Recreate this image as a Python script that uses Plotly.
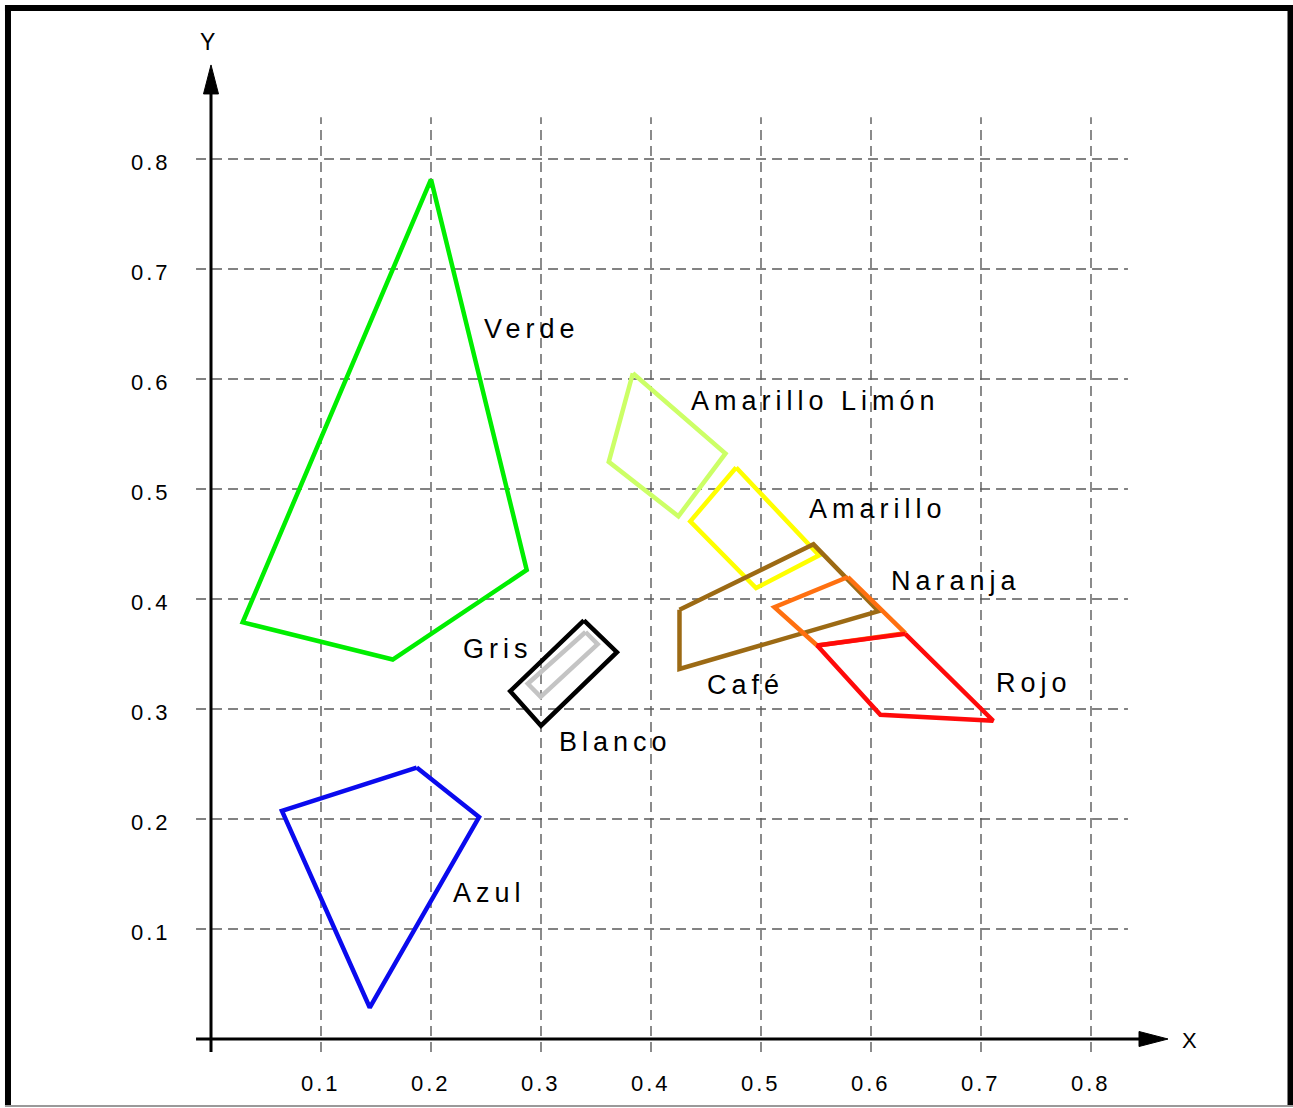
import plotly.graph_objects as go

# ---------------- data ----------------
ticks = [0.1, 0.2, 0.3, 0.4, 0.5, 0.6, 0.7, 0.8]
tick_labels = ["0.1", "0.2", "0.3", "0.4", "0.5", "0.6", "0.7", "0.8"]

region_names = ["Verde", "Azul", "Gris", "Blanco", "Amarillo Limón",
                "Amarillo", "Café", "Naranja", "Rojo"]

verde_x = [0.2000, 0.2870, 0.1652, 0.0288]
verde_y = [0.7815, 0.4264, 0.3450, 0.3788]

azul_x = [0.1870, 0.2437, 0.1443, 0.0645]
azul_y = [0.2468, 0.2018, 0.0286, 0.2073]

gris_x = [0.3390, 0.3690, 0.3000, 0.2720]
gris_y = [0.3806, 0.3516, 0.2848, 0.3162]

blanco_x = [0.3405, 0.3515, 0.2997, 0.2880]
blanco_y = [0.3700, 0.3590, 0.3110, 0.3230]

limon_x = [0.3835, 0.4677, 0.4249, 0.3616]
limon_y = [0.6052, 0.5323, 0.4752, 0.5247]

amarillo_x = [0.4774, 0.5529, 0.4955, 0.4357]
amarillo_y = [0.5195, 0.4397, 0.4099, 0.4706]

cafe_x = [0.4259, 0.5477, 0.6068, 0.4259]
cafe_y = [0.3902, 0.4497, 0.3889, 0.3364]

naranja_x = [0.5790, 0.6311, 0.5511, 0.5122]
naranja_y = [0.4200, 0.3689, 0.3577, 0.3926]

rojo_x = [0.6311, 0.7111, 0.6085, 0.5511]
rojo_y = [0.3683, 0.2893, 0.2948, 0.3577]

label_x = [0.2464, 0.2182, 0.2273, 0.3145, 0.4345, 0.5418, 0.4490, 0.6164, 0.7118]
label_y = [0.6455, 0.1327, 0.3545, 0.2700, 0.5800, 0.4818, 0.3218, 0.4164, 0.3236]

# ---------------- styles ----------------
colors = {
    "Verde": "#00ee00",
    "Azul": "#0a0aee",
    "Gris": "#000000",
    "Blanco": "#c4c4c4",
    "Amarillo Limón": "#ccff66",
    "Amarillo": "#ffff00",
    "Café": "#9c6a14",
    "Naranja": "#ff7010",
    "Rojo": "#ff0a0a",
}
polys = {
    "Verde": (verde_x, verde_y),
    "Azul": (azul_x, azul_y),
    "Gris": (gris_x, gris_y),
    "Blanco": (blanco_x, blanco_y),
    "Amarillo Limón": (limon_x, limon_y),
    "Amarillo": (amarillo_x, amarillo_y),
    "Café": (cafe_x, cafe_y),
    "Naranja": (naranja_x, naranja_y),
    "Rojo": (rojo_x, rojo_y),
}
draw_order = ["Verde", "Azul", "Gris", "Blanco", "Amarillo Limón",
              "Amarillo", "Café", "Naranja", "Rojo"]

FONT = "Liberation Sans, Arial, sans-serif"

fig = go.Figure()

# grid
grid_style = dict(color="#5a5a5a", width=1.4, dash="10px,6px")
shapes = []
for t in ticks:
    shapes.append(dict(type="line", xref="x", yref="y", x0=t, x1=t,
                       y0=-0.0118, y1=0.838, line=grid_style, layer="below"))
    shapes.append(dict(type="line", xref="x", yref="y", y0=t, y1=t,
                       x0=-0.0136, x1=0.8336, line=grid_style, layer="below"))

# axes lines
axis_line = dict(color="black", width=3)
shapes.append(dict(type="line", xref="x", yref="y", x0=-0.0136, x1=0.85,
                   y0=0, y1=0, line=axis_line))
shapes.append(dict(type="line", xref="x", yref="y", x0=0, x1=0,
                   y0=-0.0118, y1=0.865, line=axis_line))
# arrow heads
shapes.append(dict(type="path", xref="x", yref="y", xsizemode="pixel", ysizemode="pixel",
                   xanchor=0.87, yanchor=0, path="M0,0 L-29,7.5 L-29,-7.5 Z",
                   fillcolor="black", line=dict(color="black", width=1)))
shapes.append(dict(type="path", xref="x", yref="y", xsizemode="pixel", ysizemode="pixel",
                   xanchor=0, yanchor=0.8855, path="M0,0 L-7.5,-29 L7.5,-29 Z",
                   fillcolor="black", line=dict(color="black", width=1)))

# frame
frame = dict(color="black", width=6)
shapes.append(dict(type="line", xref="x", yref="y", x0=-0.1873, x1=0.99,
                   y0=0.93727, y1=0.93727, line=frame))
shapes.append(dict(type="line", xref="x", yref="y", x0=-0.18455, x1=-0.18455,
                   y0=-0.0609, y1=0.94, line=frame))
shapes.append(dict(type="line", xref="x", yref="y", x0=0.98136, x1=0.98136,
                   y0=-0.0609, y1=0.94, line=frame))
shapes.append(dict(type="line", xref="x", yref="y", x0=-0.1873, x1=0.99,
                   y0=-0.0609, y1=-0.0609, line=dict(color="#999999", width=2)))

# polygons
for name in draw_order:
    xs, ys = polys[name]
    fig.add_trace(go.Scatter(x=xs + xs[:1], y=ys + ys[:1], mode="lines",
                             line=dict(color=colors[name], width=4.5),
                             name=name, hoverinfo="skip"))

annotations = []
for name, lx, ly in zip(region_names, label_x, label_y):
    annotations.append(dict(x=lx, y=ly, xref="x", yref="y", showarrow=False,
                            xanchor="left", yanchor="middle",
                            text=f'<span style="letter-spacing:5px">{name}</span>',
                            font=dict(family=FONT, size=27, color="black")))
for t, lab in zip(ticks, tick_labels):
    annotations.append(dict(x=t, y=-0.04, xref="x", yref="y", showarrow=False,
                            xanchor="center", yanchor="middle",
                            text=f'<span style="letter-spacing:3px">{lab}</span>',
                            font=dict(family=FONT, size=22, color="black")))
    annotations.append(dict(x=-0.0345, y=t, xref="x", yref="y", showarrow=False,
                            xanchor="right", yanchor="middle", yshift=-3,
                            text=f'<span style="letter-spacing:3px">{lab}</span>',
                            font=dict(family=FONT, size=22, color="black")))
annotations.append(dict(x=-0.0036, y=0.9036, xref="x", yref="y", showarrow=False,
                        xanchor="center", yanchor="middle", text="Y", yshift=3,
                        font=dict(family=FONT, size=23, color="black")))
annotations.append(dict(x=0.8891, y=-0.0018, xref="x", yref="y", showarrow=False,
                        xanchor="center", yanchor="middle", text="X",
                        font=dict(family=FONT, size=22, color="black")))

fig.update_layout(
    width=1293, height=1108, autosize=False,
    margin=dict(l=0, r=0, t=0, b=0, pad=0),
    paper_bgcolor="white", plot_bgcolor="white",
    showlegend=False, hovermode=False,
    xaxis=dict(visible=False, range=[-0.191818, 0.983636], fixedrange=True),
    yaxis=dict(visible=False, range=[-0.062727, 0.944545], fixedrange=True),
    shapes=shapes, annotations=annotations,
)

fig.write_html("out.html", post_script="document.body.style.margin='0';",
               config={"displayModeBar": False})
